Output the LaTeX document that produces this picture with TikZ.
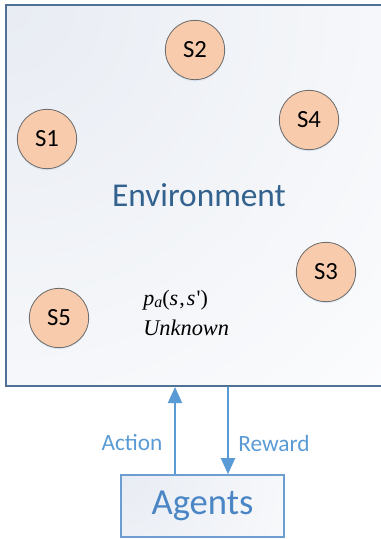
\documentclass[tikz,border=0pt]{standalone}
\usepackage{fontspec}
\setmainfont{Carlito}
\newfontfamily\tnr{Liberation Serif}
\usetikzlibrary{arrows.meta,shadows}
\definecolor{envborder}{HTML}{4E7195}
\definecolor{envtext}{HTML}{33628F}
\definecolor{envshade}{HTML}{E8ECF3}
\definecolor{statefill}{HTML}{F8CBAD}
\definecolor{stateedge}{HTML}{6B6B6B}
\definecolor{flow}{HTML}{5B9BD5}
\definecolor{agentedge}{HTML}{6C9ED2}
\definecolor{agenttext}{HTML}{4A86C5}
\tikzset{
  state/.style={circle, draw=stateedge, line width=0.6pt, fill=statefill,
    minimum size=44.5pt, inner sep=0pt,
    font=\fontsize{18.5}{20}\selectfont,
    drop shadow={shadow xshift=0pt, shadow yshift=-1.2pt, opacity=0.25, fill=flow!60}},
  flowarrow/.style={draw=flow, line width=1.5pt,
    -{Triangle[width=10.5pt,length=12pt]}},
  flowlabel/.style={text=flow, font=\fontsize{17.5}{20}\selectfont, inner sep=0pt},
  % pale tint in the upper left corner, fading to white
  softtint/.style={fill=white, path picture={
    \shade[inner color=envshade, outer color=white]
      (path picture bounding box.north west) circle (#1);}},
}
\begin{document}
\begin{tikzpicture}[x=0.75pt,y=-0.75pt]
\useasboundingbox (0,0) rectangle (380,539);
% environment frame
\node (env) [draw=envborder, line width=1.5pt, rectangle, softtint=640,
  minimum width=282pt, minimum height=285.75pt, inner sep=0pt]
  at (194,195.5) {};
\node (envlabel) [text=envtext, font=\fontsize{25}{28}\selectfont]
  at (199,195) {Environment};
% states
\node (s1) [state] at (47,139) {S1};
\node (s2) [state] at (195,50) {S2};
\node (s3) [state] at (326,272) {S3};
\node (s4) [state] at (309,120) {S4};
\node (s5) [state] at (59,318) {S5};
% transition probability note
\node (prob) [anchor=base west, inner sep=0pt, font=\tnr\fontsize{16.5}{18}\selectfont]
  at (143,305) {\textit{p}\raisebox{-0.25ex}{\fontsize{12}{13}\selectfont\textit{a}}(\textit{s}\kern0.05em,\kern0.1em\textit{s}\kern0.05em')};
\node (unk) [anchor=base west, inner sep=0pt, font=\tnr\itshape\fontsize{16.8}{18}\selectfont]
  at (143,335) {Unknown};
% agent box
\node (agent) [draw=agentedge, line width=1.2pt, rectangle, softtint=260,
  minimum width=122.25pt, minimum height=46.5pt, inner sep=0pt,
  text=agenttext, font=\fontsize{27.5}{30}\selectfont]
  at (202.5,506) {Agents};
% interaction arrows
\coordinate (actx) at (175,0);
\coordinate (rewx) at (228,0);
\draw[flowarrow] (agent.north -| actx) -- (env.south -| actx);
\draw[flowarrow] (env.south -| rewx) -- (agent.north -| rewx);
\node (action) [flowlabel] at (132,443) {Action};
\node (reward) [flowlabel] at (274,443) {Reward};
\end{tikzpicture}
\end{document}
